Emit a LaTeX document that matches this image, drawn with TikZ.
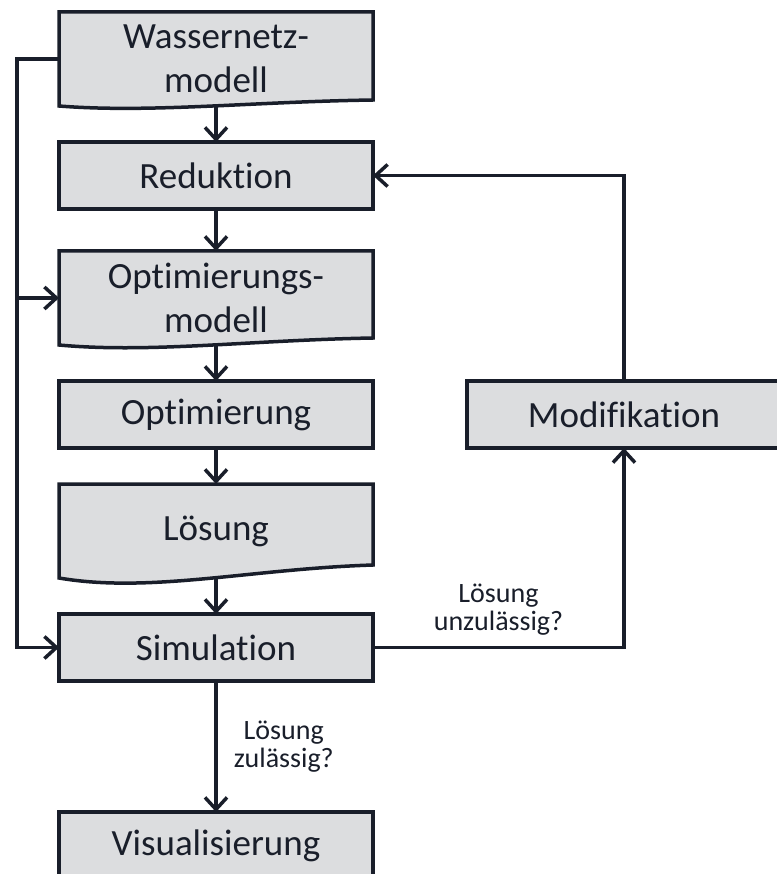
\documentclass[tikz,border=0pt]{standalone}
\usepackage{fontspec}
\setmainfont{Carlito}[Ligatures=NoCommon]
\usetikzlibrary{arrows.meta, backgrounds, positioning}
\definecolor{boxgray}{RGB}{220,221,223}
\definecolor{inkblue}{RGB}{25,30,42}

% document outline: node name, rise of the right end
\newcommand{\docoutline}[2]{%
  \filldraw[docline] (#1.south west) -- (#1.north west) -- (#1.north east)
    -- ([yshift=#2]#1.south east)
    .. controls ([xshift=-123pt,yshift=0.7*#2]#1.south east) and ([xshift=91pt,yshift=-1.2*#2]#1.south west) .. (#1.south west) -- cycle;
}

\begin{document}
\begin{tikzpicture}
    [
        x=1pt, y=1pt,
        stepbox/.style={rectangle, draw=inkblue, fill=boxgray, line width=3.5pt, inner sep=0pt, outer sep=0pt, minimum width=314pt, minimum height=67pt, font=\fontsize{37}{44}\selectfont, text=inkblue, align=center},
        docbox/.style={stepbox, draw=none, fill=none, minimum height=94pt},
        docline/.style={draw=inkblue, fill=boxgray, line width=3.5pt},
        flow/.style={draw=inkblue, line width=3.5pt, -{Straight Barb[length=12pt,width=22pt]}},
        note/.style={font=\fontsize{28}{28}\selectfont, text=inkblue, align=center, inner sep=5pt},
        node distance=36pt,
    ]
    \useasboundingbox (0,0) rectangle (776,-874);
    \node[docbox] (netz) at (216,-59) {Wassernetz-\\modell};
    \node[stepbox] (reduktion) [below=of netz] {Reduktion};
    \node[docbox] (optmodell) [below=42pt of reduktion] {Optimierungs-\\modell};
    \node[stepbox] (optimierung) [below=of optmodell] {Optimierung};
    \node[docbox] (loesung) [below=of optimierung] {Lösung};
    \node[stepbox] (simulation) [below=of loesung] {Simulation};
    \node[stepbox] (visual) [below=131pt of simulation] {Visualisierung};
    \node[stepbox] (modifikation) [right=94pt of optimierung] {Modifikation};
    \coordinate (bus) at (17,0);

    \begin{scope}[on background layer]
        \docoutline{netz}{6pt}
        \docoutline{optmodell}{7pt}
        \docoutline{loesung}{13pt}
    \end{scope}

    \draw[flow] (netz) -- (reduktion);
    \draw[flow] (reduktion) -- (optmodell);
    \draw[flow] (optmodell) -- (optimierung);
    \draw[flow] (optimierung) -- (loesung);
    \draw[flow] (loesung) -- (simulation);
    \draw[flow] (simulation) -- node[note, right=11pt] {Lösung\\zulässig?} (visual);
    \draw[flow] (simulation) -| node[note, pos=0.25, above=5pt] {Lösung\\unzulässig?} (modifikation);
    \draw[flow] (modifikation) |- (reduktion);
    % feedback from the net model
    \draw[flow] (netz.west) -- (netz.west -| bus) |- (simulation);
    \draw[flow] (bus |- optmodell) -- (optmodell);
\end{tikzpicture}
\end{document}
